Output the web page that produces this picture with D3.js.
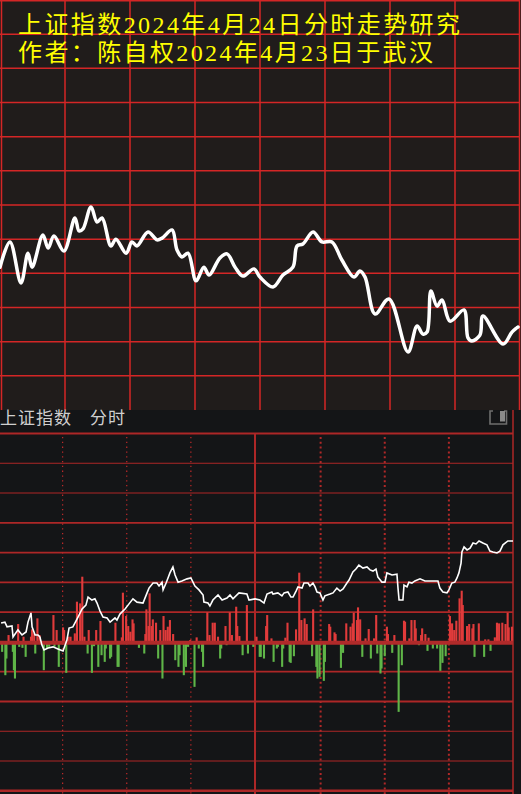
<!DOCTYPE html>
<html><head><meta charset="utf-8">
<script src="https://cdn.jsdelivr.net/npm/d3@7/dist/d3.min.js"></script>
<style>html,body{margin:0;padding:0;background:#141517;overflow:hidden}svg{display:block}</style>
</head><body>
<script>
// ---------- data ----------
const titleLines = ["上证指数2024年4月24日分时走势研究", "作者：陈自权2024年4月23日于武汉"];
const headerLabels = ["上证指数", "分时"];

// upper (forecast) curve: minute of session, level in grid units
const topT = [0,4.6,9.7,12.9,14.8,19.8,22.2,24.9,29.5,34.6,36.5,38.3,42.0,44.8,47.1,51.2,53.5,58.2,60.9,63.2,68.3,72.5,74.8,79.4,81.7,84.0,86.8,90.5,94.1,96.5,101.5,104.8,108.5,112.1,117.2,120.0,126.0,130.6,135.2,137.1,139.8,144.5,148.6,153.2,157.8,163.4,166.1,168.5,173.1,179.5,188.3,192.5,195.2,197.1,198.9,201.7,204.0,207.7,214.1,216.0,217.8,221.5,222.9,232.2,236.3,239.1];
const topV = [4.18,4.92,3.72,4.59,4.18,5.12,4.74,5.09,4.65,5.62,5.24,5.30,5.94,5.50,5.62,4.80,5.00,4.59,4.92,4.80,5.21,4.98,5.03,5.27,4.68,4.48,4.59,3.78,4.18,3.95,4.45,4.57,4.18,3.92,4.13,3.89,3.60,3.95,4.18,4.80,4.86,5.21,4.92,4.92,4.39,3.89,4.07,3.89,2.81,3.25,1.70,2.46,2.22,2.28,3.48,3.04,3.22,2.60,2.93,2.11,2.02,2.19,2.75,1.93,2.28,2.43];

// lower intraday price line: minute, level (10 units per grid row)
const priceT = [0.5,2.3,3.3,5.6,6.1,8.4,10.3,12.2,13.1,14.5,15.0,16.4,17.8,18.7,19.6,20.6,22.5,24.8,27.1,29.5,31.3,32.3,34.1,36.5,38.4,40.2,41.2,43.0,44.4,45.4,46.8,48.2,50.1,51.5,53.8,54.7,56.1,58.5,59.9,62.2,64.1,66.9,68.8,69.7,71.6,73.4,74.4,75.8,76.3,77.7,78.6,79.5,80.9,81.9,83.3,85.1,87.5,89.3,91.2,93.1,95.0,95.4,97.3,98.2,99.6,102.0,103.9,106.2,107.6,109.0,111.8,115.5,116.5,119.3,121.6,123.5,124.9,127.2,127.7,130.0,131.9,132.9,134.7,136.1,137.1,138.5,139.4,141.3,142.2,144.1,145.0,146.4,147.4,148.3,149.7,151.1,152.0,154.4,155.8,157.6,159.1,160.5,162.3,163.3,165.1,166.5,167.9,169.8,171.7,173.1,174.5,175.9,176.8,178.7,180.1,181.0,183.4,185.7,186.2,186.7,188.5,189.0,190.4,191.3,192.7,194.1,196.5,198.8,204.9,205.8,207.2,209.1,210.0,211.4,212.8,213.8,214.7,215.7,216.1,217.1,218.5,219.9,221.3,222.7,224.1,225.9,227.8,229.2,230.6,232.5,233.9,235.3,237.6,240.0];
const priceV = [6.7,7.0,5.4,5.7,2.0,4.4,2.7,3.7,7.0,10.1,5.4,2.7,2.7,2.0,-0.7,-2.3,-1.7,-1.3,-2.0,-2.7,1.0,5.0,5.4,8.7,11.4,12.7,15.4,14.4,14.8,13.4,10.7,8.7,8.4,7.0,8.4,7.7,9.7,11.4,12.7,14.8,13.7,13.4,16.8,18.4,20.1,20.1,19.1,20.4,17.8,20.1,21.8,23.5,25.5,22.8,20.4,20.8,21.5,21.8,19.1,17.8,16.1,13.7,13.4,12.4,14.4,16.1,14.4,15.1,16.1,14.8,16.8,16.4,14.4,14.8,14.4,13.4,16.4,17.1,16.4,16.8,15.8,16.8,17.1,15.4,15.4,17.4,18.8,18.4,20.1,20.1,19.1,20.1,18.8,17.1,16.8,14.4,15.8,16.4,16.8,18.4,17.4,18.1,20.1,21.1,23.8,24.8,26.1,25.1,25.5,24.5,24.1,24.8,22.1,20.4,20.4,23.5,22.8,23.1,18.4,14.4,14.4,19.4,18.8,20.4,20.1,20.8,21.5,20.8,20.8,18.4,17.1,16.8,17.8,20.1,20.4,21.8,23.5,26.8,30.5,32.2,31.2,31.8,33.5,33.2,34.2,33.5,32.9,30.8,30.5,30.2,30.8,32.9,34.2,34.2];

// red (up) bars
const upT = [4,8.5,11,14.5,15,16,17.5,18.5,25,26.5,29.5,30,32,33,35,36,37.5,38.5,39.5,41.5,45,47,54,57,57.5,59,60,61,62,62.5,68,68.5,69.5,70,71,71.5,73,75,76.5,77.5,78.5,79.5,81,89,92,97,98,99.5,100.5,102,105.5,107.5,108.5,110.5,111,112,115.5,120,124.5,125,127,133.5,134.5,138.5,140,141,142.5,143.5,146.5,154,154.5,156.5,157,162,164,165,165.5,167,167.5,168.5,171,172.5,175,176,181,181.5,184.5,189,189.5,191.5,192.5,194,194.5,197,197.5,199,200.5,210.5,211.5,212.5,213.5,215,216,216.5,218.5,219.5,221,221.5,224,227,228.5,231.5,232.5,233.5,235,236.5,237.5,238,239.5];
const upV = [17,50,12,12,34,22,67,17,77,32,40,32,12,12,22,117,112,192,12,32,32,59,54,10,144,74,44,27,64,52,20,94,44,142,44,64,54,32,74,32,42,62,20,2,10,85,17,54,54,12,44,85,17,102,44,14,107,12,44,77,7,9,54,34,204,62,67,50,94,50,42,25,20,52,42,52,84,62,100,64,7,35,7,77,42,20,17,60,57,7,62,62,37,17,37,20,9,74,52,32,60,127,150,107,44,50,37,50,52,4,4,10,54,52,54,50,84,40,42];
// green (down) bars
const downT = [1,2.5,3,6,6.5,7,9,10.5,12,16.5,20.5,22,23,25.5,27.5,31,41,43,44,46,47.5,49,49.5,51.5,52,55,55.5,65,67.5,74,76,82,83.5,84,86,87,88,91,93,94.5,95,103,103.5,106,113.5,116,118.5,121.5,122,123.5,128,129.5,130,132,132.5,135.5,136,137.5,146,148,148.5,149.5,151.5,152,159.5,160.5,169.5,173.5,176.5,178,178.5,180,183.5,186.5,188,196,200,202.5,204.5,206,207,208.5,222,226.5,229.5];
const downV = [23,93,43,23,78,103,8,11,38,28,78,13,8,8,68,86,28,86,6,68,33,53,13,43,38,68,68,11,28,43,103,48,68,33,93,68,8,128,13,23,68,43,13,3,33,28,8,38,38,43,53,13,8,68,13,53,56,36,36,68,103,98,110,53,71,26,38,43,28,88,73,36,26,203,63,3,20,13,13,80,56,36,38,38,20];

// ---------- drawing ----------
const W = 521, H = 794;
const svg = d3.select("body").append("svg").attr("width", W).attr("height", H);
svg.append("rect").attr("width", W).attr("height", H).attr("fill", "#141517");

// upper panel
const xT = d3.scaleLinear().domain([0, 240]).range([0, 520]);
const yT = d3.scaleLinear().domain([0, 12]).range([410, 0]);
const topG = svg.append("g");
topG.append("rect").attr("width", W).attr("height", 410).attr("fill", "#201c1b");
const topGrid = topG.append("g").attr("stroke", "#d42626").attr("stroke-width", 1.5);
topGrid.selectAll("line.h").data(d3.range(1, 13)).join("line")
  .attr("x1", 0).attr("x2", 520)
  .attr("y1", d => Math.max(yT(d), 0.75)).attr("y2", d => Math.max(yT(d), 0.75));
topGrid.selectAll("line.v").data(d3.range(0, 241, 30)).join("line")
  .attr("x1", d => Math.min(Math.max(xT(d), 1.5), 519.5)).attr("x2", d => Math.min(Math.max(xT(d), 1.5), 519.5))
  .attr("y1", 0).attr("y2", 410);

const topLine = d3.line().x(d => xT(d[0])).y(d => yT(d[1])).curve(d3.curveCatmullRom.alpha(0.5));
topG.append("path").datum(d3.zip(topT, topV)).attr("d", topLine)
  .attr("fill", "none").attr("stroke", "#ffffff").attr("stroke-width", 3.5)
  .attr("stroke-linejoin", "round").attr("stroke-linecap", "round");

const titleLen = [442, 415];
topG.selectAll("text.title").data(titleLines).join("text")
  .attr("class", "title")
  .attr("x", 18).attr("y", (d, i) => 33.3 + i * 27.4)
  .attr("textLength", (d, i) => titleLen[i]).attr("lengthAdjust", "spacing")
  .attr("fill", "#ffff00").attr("font-size", 24)
  .attr("font-family", "'Liberation Serif', 'Noto Sans CJK SC', serif")
  .text(d => d);

// lower panel
const xB = d3.scaleLinear().domain([0, 240]).range([0, 513]);
const rowY = d3.scaleLinear().domain([0, 12]).range([433.5, 790.8]);
const yP = d3.scaleLinear().domain([0, 10]).range([643, 613.17]);
const volLen = d3.scaleLinear().domain([0, 300]).range([0, 100]);
const zeroY = 642.7;
const gridCol = "#ad2727";
const botG = svg.append("g");

const rows = d3.range(0, 13).filter(r => r !== 7);
botG.selectAll("line.row").data(rows).join("line")
  .attr("x1", 0).attr("x2", 513)
  .attr("y1", d => rowY(d)).attr("y2", d => rowY(d))
  .attr("stroke", gridCol)
  .attr("stroke-width", d => (d === 0 ? 2.2 : d === 12 ? 2.6 : (d <= 2 || d >= 10) ? 1.1 : 1.8));

// vertical time lines
const vLeft = [30, 60, 90], vRight = [150, 180, 210];
botG.selectAll("line.vl").data(vLeft).join("line")
  .attr("x1", d => xB(d) - 1.5).attr("x2", d => xB(d) - 1.5)
  .attr("y1", 437).attr("y2", 794)
  .attr("stroke", "#c02a2a").attr("stroke-width", 1.2).attr("stroke-dasharray", "1.3,3.5");
botG.selectAll("line.vr").data(vRight).join("line")
  .attr("x1", d => xB(d)).attr("x2", d => xB(d))
  .attr("y1", 437).attr("y2", 794)
  .attr("stroke", "#b02828").attr("stroke-width", 2).attr("stroke-dasharray", "2,2.8");
botG.append("line").attr("x1", xB(120) - 1.5).attr("x2", xB(120) - 1.5).attr("y1", 433).attr("y2", 794)
  .attr("stroke", gridCol).attr("stroke-width", 2);
botG.append("line").attr("x1", xB(240)).attr("x2", xB(240)).attr("y1", 410).attr("y2", 794)
  .attr("stroke", gridCol).attr("stroke-width", 1.5);

// volume bars
const bw = 2.1;
botG.selectAll("rect.up").data(d3.zip(upT, upV)).join("rect")
  .attr("x", d => xB(d[0]) - bw / 2).attr("width", bw)
  .attr("y", d => zeroY - 2 - volLen(d[1])).attr("height", d => volLen(d[1]) + 2)
  .attr("fill", "#e03b3b");
botG.selectAll("rect.down").data(d3.zip(downT, downV)).join("rect")
  .attr("x", d => xB(d[0]) - bw / 2).attr("width", bw)
  .attr("y", zeroY).attr("height", d => volLen(d[1]) + 1.5)
  .attr("fill", "#5fb548");

// zero line
botG.append("line").attr("x1", 0).attr("x2", 513).attr("y1", zeroY).attr("y2", zeroY)
  .attr("stroke", "#b02a2a").attr("stroke-width", 4);

// price line
const priceLine = d3.line().x(d => xB(d[0])).y(d => yP(d[1]));
botG.append("path").datum(d3.zip(priceT, priceV)).attr("d", priceLine)
  .attr("fill", "none").attr("stroke", "#ffffff").attr("stroke-width", 1.6);

// header
botG.selectAll("text.hdr").data(headerLabels).join("text")
  .attr("x", (d, i) => i === 0 ? 0 : 90).attr("y", 424)
  .attr("fill", "#cfcfcf").attr("font-size", 17).attr("letter-spacing", 1)
  .attr("font-family", "'Noto Sans CJK SC', sans-serif")
  .text(d => d);
botG.append("path").attr("d", "M493,411 H490 V424 H506.5 V411 H504")
  .attr("fill", "none").attr("stroke", "#6e6e6e").attr("stroke-width", 1.6);
botG.append("rect").attr("x", 500).attr("y", 411).attr("width", 5).attr("height", 10.5).attr("fill", "#8a8a8a");
</script>
</body></html>
